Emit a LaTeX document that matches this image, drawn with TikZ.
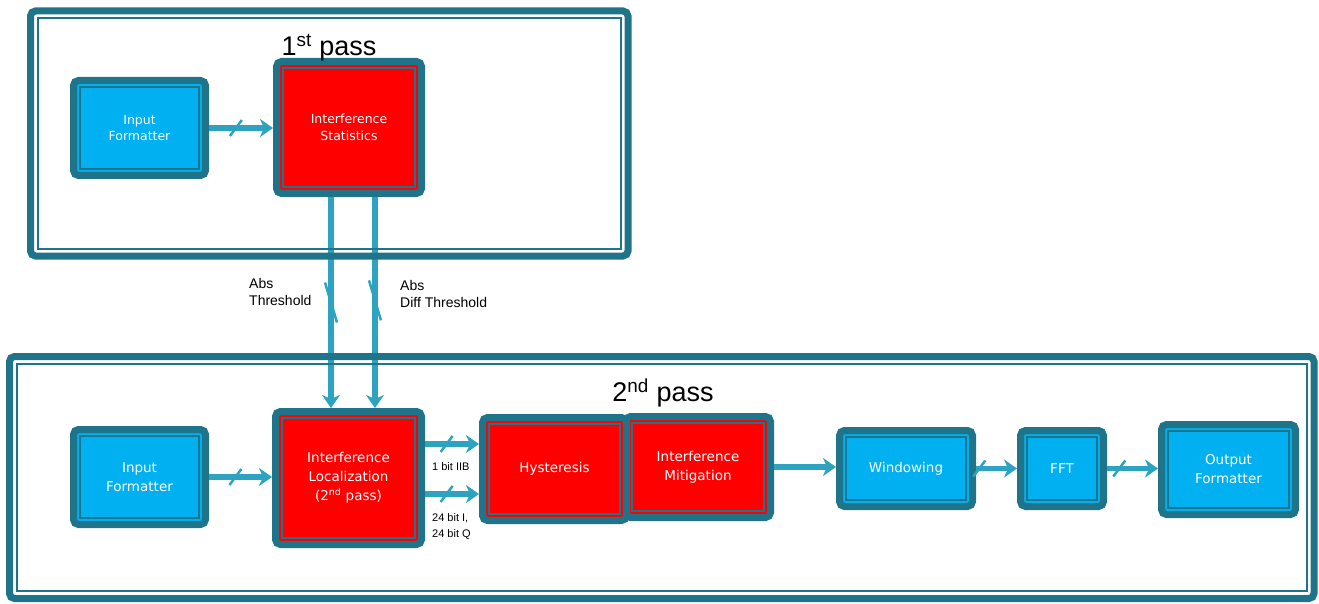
\documentclass[tikz,border=0pt]{standalone}
\usepackage{fontspec}
\setmainfont{Liberation Sans}
\newfontfamily\boxfont{DejaVu Sans}
\usetikzlibrary{arrows.meta,calc}

\definecolor{frameteal}{RGB}{31,116,137}
\definecolor{flowteal}{RGB}{46,163,193}
\definecolor{boxblue}{RGB}{0,176,240}
\definecolor{boxred}{RGB}{255,0,0}

\tikzset{
  blk/.style={draw=frameteal, line width=7pt, rounded corners=5pt, outer sep=3.5pt,
    inner sep=0pt, text=white, align=center, font=\boxfont\fontsize{13.5}{19}\selectfont},
  blueblk/.style={blk, fill=boxblue},
  redblk/.style={blk, fill=boxred},
  smalltxt/.style={font=\boxfont\fontsize{12.5}{16.5}\selectfont},
  inline/.style={draw=frameteal, line width=1.8pt},
  flow/.style={draw=flowteal, line width=5.5pt, -{Stealth[length=13pt,width=18pt,inset=4pt]}},
  bitmark/.style={draw=flowteal, line width=2.5pt},
  framethick/.style={draw=frameteal, line width=7pt, rounded corners=5pt},
  framethin/.style={draw=frameteal, line width=2pt},
  lbl/.style={align=left, inner sep=0pt, font=\fontsize{14}{17}\selectfont},
  bitlbl/.style={align=left, inner sep=0pt, font=\fontsize{11}{16}\selectfont},
  passlbl/.style={inner sep=0pt, font=\fontsize{27}{30}\selectfont},
}

\begin{document}
\begin{tikzpicture}[x=1pt,y=-1pt]
\useasboundingbox (0,0) rectangle (1319,604);

% 1st pass blocks
\node[blueblk, smalltxt, minimum width=132pt, minimum height=95pt] (if1) at (139.5,128) {Input\\Formatter};
\node[redblk, smalltxt, minimum width=145pt, minimum height=132pt] (is) at (349,127.5) {Interference\\Statistics};

% 2nd pass blocks
\node[blueblk, minimum width=132pt, minimum height=95pt] (if2) at (139.5,477) {Input\\Formatter};
\node[redblk, minimum width=146pt, minimum height=133pt] (il) at (348.5,478) {Interference\\Localization\\(2\textsuperscript{nd} pass)};
\node[redblk, minimum width=145pt, minimum height=101pt] (im) at (698,467) {Interference\\Mitigation};
\node[redblk, minimum width=144pt, minimum height=103pt] (hyst) at (554.5,469) {Hysteresis};
\node[blueblk, minimum width=133pt, minimum height=76pt] (win) at (906,468.5) {Windowing};
\node[blueblk, minimum width=83pt, minimum height=76pt] (fft) at (1062,468.5) {FFT};
\node[blueblk, minimum width=134pt, minimum height=90pt] (out) at (1228.5,469.5) {Output\\Formatter};

% inner lines of the blocks
\foreach \b in {if1,is,if2,il,im,hyst,win,fft,out}
  \draw[inline] ([shift={(10pt,-10pt)}]\b.north west) rectangle ([shift={(-10pt,10pt)}]\b.south east);

% data flow
\draw[flow] (if1.east) -- (if1.east -| is.west);
\draw[bitmark] ($(if1.east)!0.42!(if1.east -| is.west)$) ++(-6,8) -- ++(12,-16);
\draw[flow] ([xshift=-18pt]is.south) -- ([xshift=-18pt]is.south |- il.north);
\draw[flow] ([xshift=26pt]is.south) -- ([xshift=26pt]is.south |- il.north);
\draw[bitmark] ($([xshift=-18pt]is.south)!0.5!([xshift=-18pt]is.south |- il.north)$) ++(-6,-20) -- ++(12,40);
\draw[bitmark] ($([xshift=26pt]is.south)!0.49!([xshift=26pt]is.south |- il.north)$) ++(-6,-20) -- ++(12,40);
\draw[flow] (if2.east) -- (if2.east -| il.west);
\draw[bitmark] ($(if2.east)!0.42!(if2.east -| il.west)$) ++(-6,8) -- ++(12,-16);
\draw[flow] ([yshift=34pt]il.east) -- ([yshift=34pt]il.east -| hyst.west);
\draw[bitmark] ($([yshift=34pt]il.east)!0.4!([yshift=34pt]il.east -| hyst.west)$) ++(-6,8) -- ++(12,-16);
\draw[flow] ([yshift=-16pt]il.east) -- ([yshift=-16pt]il.east -| hyst.west);
\draw[bitmark] ($([yshift=-16pt]il.east)!0.4!([yshift=-16pt]il.east -| hyst.west)$) ++(-6,8) -- ++(12,-16);
\draw[flow] (im.east) -- (im.east -| win.west);
\draw[flow] (win.east) -- (win.east -| fft.west);
\draw[bitmark] ($(win.east)!0.08!(win.east -| fft.west)$) ++(-6,8) -- ++(12,-16);
\draw[flow] (fft.east) -- (fft.east -| out.west);
\draw[bitmark] ($(fft.east)!0.24!(fft.east -| out.west)$) ++(-6,8) -- ++(12,-16);

% labels
\node[lbl, anchor=west] (absthr) at (249,292) {Abs\\Threshold};
\node[lbl, anchor=west] (absdiff) at (400,293.5) {Abs\\Diff Threshold};
\node[bitlbl, anchor=west] (iiblbl) at (432,467) {1 bit IIB};
\node[bitlbl, anchor=west] (iqlbl) at (432,527) {24 bit I,\\24 bit Q};
\node[passlbl] (pass1) at (329,48) {1\textsuperscript{st} pass};
\node[passlbl] (pass2) at (663,393) {2\textsuperscript{nd} pass};

% frames
\draw[framethick] (30.5,11) rectangle (628,256);
\draw[framethin] (38,18.5) rectangle (620.5,248.5);
\draw[framethick] (9.5,356.5) rectangle (1314,598.5);
\draw[framethin] (17,364) rectangle (1306.5,591);
\end{tikzpicture}
\end{document}
